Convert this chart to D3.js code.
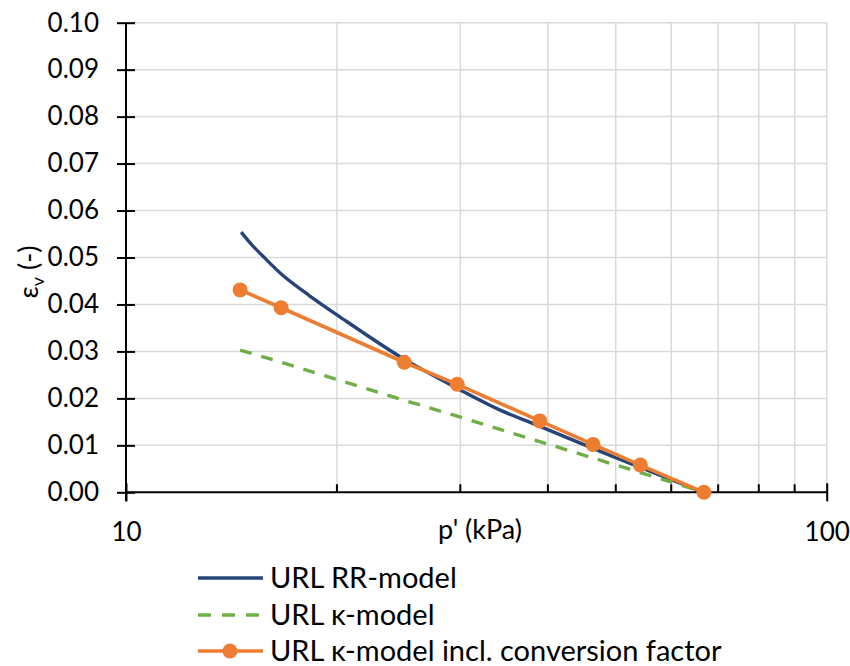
<!DOCTYPE html>
<html>
<head>
<meta charset="utf-8">
<script src="https://cdnjs.cloudflare.com/ajax/libs/d3/7.8.5/d3.min.js"></script>
<style>
  body { margin: 0; background: #fff; }
  text { font-family: Lato, "Open Sans", sans-serif; fill: #000; }
</style>
</head>
<body>
<script>
"use strict";
(function(){
    // RR-model curve
    const rrP = [14.6, 15.1, 15.7, 16.8, 18.3, 20.0, 24.6, 30.0, 34.2, 38.9, 46.3, 54.2, 66.8]
    const rrE = [0.0554, 0.0528, 0.0502, 0.0460, 0.0418, 0.0378, 0.0289, 0.0218, 0.0175, 0.0141, 0.0094, 0.0053, 0.0]

    // kappa-model (dashed)
    const kP = [14.55, 16.65, 24.95, 29.7, 38.95, 46.4, 54.2, 66.8]
    const kE = [0.0303, 0.0277, 0.0196, 0.0162, 0.0108, 0.0073, 0.0042, 0.0]

    // kappa-model incl. conversion factor (markers)
    const cP = [14.55, 16.65, 24.95, 29.7, 38.95, 46.4, 54.2, 66.8]
    const cE = [0.0431, 0.0393, 0.0277, 0.0230, 0.0152, 0.0102, 0.0058, 0.0]

    const yTicks = [0, 0.01, 0.02, 0.03, 0.04, 0.05, 0.06, 0.07, 0.08, 0.09, 0.10]
    const xMajor = [10, 100]
    const xMinor = [20, 30, 40, 50, 60, 70, 80, 90]

    const seriesNames = ["URL RR-model", "URL \u03ba-model", "URL \u03ba-model incl. conversion factor"]
    const colors = { rr: "#264478", k: "#70AD47", c: "#ED7D31" }

    const measurements = {
        width: 850,
        height: 666,
        left: 126,
        right: 826.7,
        top: 22.7,
        bottom: 492.3
    }

    let svg = d3.select('body').append('svg')
        .attr('width', measurements.width)
        .attr('height', measurements.height)

    let scaleX = d3.scaleLog()
        .domain([10, 100])
        .range([measurements.left, measurements.right])
    let scaleY = d3.scaleLinear()
        .domain([0, 0.10])
        .range([measurements.bottom, measurements.top])

    // gridlines
    let grid = svg.append('g').attr('stroke', '#d9d9d9').attr('stroke-width', 1.5)
    grid.selectAll('.hg').data(yTicks.slice(1)).enter().append('line')
        .attr('x1', measurements.left).attr('x2', measurements.right)
        .attr('y1', d => scaleY(d)).attr('y2', d => scaleY(d))
    grid.selectAll('.vg').data(xMinor.concat([100])).enter().append('line')
        .attr('x1', d => scaleX(d)).attr('x2', d => scaleX(d))
        .attr('y1', measurements.top).attr('y2', measurements.bottom)

    // y axis
    let yAxis = d3.axisLeft(scaleY)
        .tickValues(yTicks)
        .tickFormat(d3.format('.2f'))
        .tickSizeInner(9)
        .tickSizeOuter(0)
        .tickPadding(18)
    let gy = svg.append('g')
        .attr('transform', `translate(${measurements.left},0)`)
        .call(yAxis)
    gy.select('.domain').remove()
    gy.selectAll('.tick line').attr('x1', 9).attr('stroke', '#000').attr('stroke-width', 2)
    gy.selectAll('.tick text').style('font-size', '26px')
    gy.append('line')
        .attr('x1', 0).attr('x2', 0)
        .attr('y1', measurements.top).attr('y2', measurements.bottom + 9)
        .attr('stroke', '#000').attr('stroke-width', 2)

    // x axis
    let xAxis = d3.axisBottom(scaleX)
        .tickValues(xMajor)
        .tickFormat(d3.format('d'))
        .tickSizeInner(9)
        .tickSizeOuter(0)
        .tickPadding(21)
    let gx = svg.append('g')
        .attr('transform', `translate(0,${measurements.bottom})`)
        .call(xAxis)
    gx.select('.domain').remove()
    gx.selectAll('.tick line').attr('y1', -9).attr('stroke', '#000').attr('stroke-width', 2)
    gx.selectAll('.tick text').style('font-size', '26px')
    gx.selectAll('.minor').data(xMinor).enter().append('line')
        .attr('x1', d => scaleX(d)).attr('x2', d => scaleX(d))
        .attr('y1', -8).attr('y2', 0)
        .attr('stroke', '#000').attr('stroke-width', 2)
    gx.append('line')
        .attr('x1', measurements.left).attr('x2', measurements.right)
        .attr('stroke', '#000').attr('stroke-width', 2)

    // axis titles
    svg.append('text')
        .attr('x', 480).attr('y', 539)
        .attr('text-anchor', 'middle')
        .style('font-size', '27px')
        .text("p' (kPa)")
    let yt = svg.append('text')
        .attr('transform', 'translate(38,272) rotate(-90)')
        .attr('text-anchor', 'middle')
        .style('font-size', '27px')
    yt.append('tspan').text('\u03b5')
    yt.append('tspan').attr('dy', 6).style('font-size', '18px').text('v')
    yt.append('tspan').attr('dy', -6).text(' (-)')

    // series
    const toPts = (ps, es) => ps.map((p, i) => [scaleX(p), scaleY(es[i])])

    svg.append('path')
        .attr('d', d3.line().curve(d3.curveCatmullRom)(toPts(rrP, rrE)))
        .attr('fill', 'none').attr('stroke', colors.rr).attr('stroke-width', 3.4)

    svg.append('path')
        .attr('d', d3.line()(toPts(kP, kE)))
        .attr('fill', 'none').attr('stroke', colors.k).attr('stroke-width', 3.4)
        .attr('stroke-dasharray', '12,10')

    svg.append('path')
        .attr('d', d3.line()(toPts(cP, cE)))
        .attr('fill', 'none').attr('stroke', colors.c).attr('stroke-width', 3.6)
    svg.selectAll('.dot').data(toPts(cP, cE)).enter().append('circle')
        .attr('cx', d => d[0]).attr('cy', d => d[1]).attr('r', 7.5)
        .attr('fill', colors.c)

    // legend
    const legendY = [578, 615, 651]
    let legend = svg.append('g')
    legend.append('line').attr('x1', 198).attr('x2', 263).attr('y1', legendY[0]).attr('y2', legendY[0])
        .attr('stroke', colors.rr).attr('stroke-width', 3.4)
    legend.append('line').attr('x1', 198).attr('x2', 263).attr('y1', legendY[1]).attr('y2', legendY[1])
        .attr('stroke', colors.k).attr('stroke-width', 3.4).attr('stroke-dasharray', '13,11')
    legend.append('line').attr('x1', 198).attr('x2', 263).attr('y1', legendY[2]).attr('y2', legendY[2])
        .attr('stroke', colors.c).attr('stroke-width', 3.6)
    legend.append('circle').attr('cx', 230).attr('cy', legendY[2]).attr('r', 7.5).attr('fill', colors.c)
    legend.selectAll('.lt').data(seriesNames).enter().append('text')
        .attr('x', 270).attr('y', (d, i) => legendY[i])
        .attr('dy', '0.36em')
        .style('font-size', '29px')
        .text(d => d)
})()
</script>
</body>
</html>
